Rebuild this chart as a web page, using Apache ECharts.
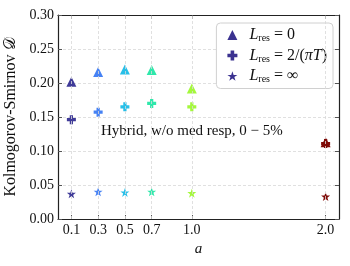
<!DOCTYPE html>
<html><head><meta charset="utf-8">
<script src="https://cdn.jsdelivr.net/npm/echarts@6/dist/echarts.min.js"></script>
<style>html,body{margin:0;padding:0;background:#fff}#c{width:350px;height:266px}</style>
</head><body><div id="c"></div>
<script>
const aValues = [0.1, 0.3, 0.5, 0.7, 1.0, 2.0];
const dRes0 = [0.202, 0.216, 0.220, 0.219, 0.192, 0.113];
const dRes2piT = [0.146, 0.157, 0.165, 0.170, 0.165, 0.111];
const dResInf = [0.037, 0.040, 0.039, 0.040, 0.038, 0.033];
const yTicks = [0, 0.05, 0.10, 0.15, 0.20, 0.25, 0.30];
const pointColors = ['#3f3a98', '#4682f4', '#28bfe8', '#2fe8ab', '#a4f83c', '#7f0a06'];

const FONT = 'Liberation Serif';
const plusPath = 'path://M3.2,0H6.8V3.2H10V6.8H6.8V10H3.2V6.8H0V3.2H3.2Z';
const starPath = 'path://M50,0L61.8,35.1L98.5,35.1L68.8,56.9L80.2,92L50,70.2L19.8,92L31.2,56.9L1.5,35.1L38.2,35.1Z';

function mk(vals){ return aValues.map((a,i)=>({value:[a, vals[i]], itemStyle:{color:pointColors[i], opacity:1}})); }

const chart = echarts.init(document.getElementById('c'), null, {renderer:'canvas'});
const lineColor = '#222';
const gridLine = {show:true, lineStyle:{color:'#d8d8d8', type:[3,2], width:0.8}};
const rich = {
  i:{fontFamily:FONT, fontStyle:'italic', fontSize:16, color:'#111'},
  s:{fontFamily:FONT, fontSize:10, color:'#111', verticalAlign:'bottom', padding:[7,0,0,0]},
  n:{fontFamily:FONT, fontSize:16, color:'#111'}
};
chart.setOption({
  animation:false,
  grid:{left:58, right:11, top:15, bottom:47, outerBoundsMode:'none', containLabel:false},
  legend:{
    right:17, top:23, orient:'vertical', itemGap:4, itemWidth:10, itemHeight:10,
    padding:[4,6,4,11],
    backgroundColor:'#fff', borderColor:'#d0d0d0', borderWidth:1, borderRadius:4,
    data:[
      {name:'r0', icon:'triangle', itemStyle:{color:'#3b3290', opacity:1}},
      {name:'r2', icon:plusPath, itemStyle:{color:'#3b3290', opacity:1}},
      {name:'rinf', icon:starPath, itemStyle:{color:'#3b3290', opacity:1}}
    ],
    formatter:function(n){
      if(n==='r0') return '{i|L}{s|res}{n| = 0}';
      if(n==='r2') return '{i|L}{s|res}{n| = 2/(}{i|πT}{n|)}';
      return '{i|L}{s|res}{n| = ∞}';
    },
    textStyle:{rich:rich, padding:[0,0,0,7]}
  },
  xAxis:[{
    type:'value', min:0, max:2.1, position:'bottom',
    name:'a', nameLocation:'middle', nameGap:22,
    nameTextStyle:{fontFamily:FONT, fontStyle:'italic', fontSize:15, color:'#111'},
    axisLine:{show:true, onZero:false, lineStyle:{color:lineColor, width:1.2}},
    axisTick:{show:true, inside:true, length:4, customValues:aValues, lineStyle:{color:'#555'}},
    axisLabel:{customValues:aValues, fontFamily:FONT, fontSize:14, color:'#111', margin:4,
      formatter:v=>v.toFixed(1)},
    splitLine:{show:false}
  },{
    type:'value', min:0, max:2.1, position:'top',
    axisLine:{show:true, onZero:false, lineStyle:{color:lineColor, width:1.2}},
    axisTick:{show:true, inside:true, length:4, customValues:aValues, lineStyle:{color:'#555'}},
    axisLabel:{show:false}, splitLine:{show:false}
  }],
  yAxis:[{
    type:'value', min:0, max:0.3, interval:0.05, position:'left',
    name:'Kolmogorov-Smirnov 𝒟', nameLocation:'middle', nameGap:37, nameRotate:90,
    nameTextStyle:{fontFamily:FONT, fontSize:16, color:'#111'},
    axisLine:{show:true, onZero:false, lineStyle:{color:lineColor, width:1.2}},
    axisTick:{show:true, inside:true, length:4, lineStyle:{color:'#555'}},
    axisLabel:{fontFamily:FONT, fontSize:14, color:'#111', margin:4, formatter:v=>v.toFixed(2)},
    splitLine:gridLine
  },{
    type:'value', min:0, max:0.3, interval:0.05, position:'right',
    axisLine:{show:true, onZero:false, lineStyle:{color:lineColor, width:1.2}},
    axisTick:{show:true, inside:true, length:4, lineStyle:{color:'#555'}},
    axisLabel:{show:false}, splitLine:{show:false}
  }],
  graphic:[{
    type:'text', left:101, top:124,
    style:{text:'Hybrid, w/o med resp, 0 − 5%', font:'15px "Liberation Serif"', fill:'#111'}
  }],
  series:[
    {name:'grid', type:'scatter', data:[], silent:true,
     markLine:{silent:true, symbol:'none', label:{show:false},
       lineStyle:{color:'#d8d8d8', type:[3,2], width:0.8},
       data:aValues.map(a=>({xAxis:a}))}},
    {name:'r0', type:'scatter', symbol:'triangle', symbolSize:10, data:mk(dRes0), z:3, itemStyle:{opacity:1}},
    {name:'r2', type:'scatter', symbol:plusPath, symbolSize:9, data:mk(dRes2piT), z:4, itemStyle:{opacity:1}},
    {name:'rinf', type:'scatter', symbol:starPath, symbolSize:9, data:mk(dResInf), z:3, itemStyle:{opacity:1}}
  ]
});
</script></body></html>
